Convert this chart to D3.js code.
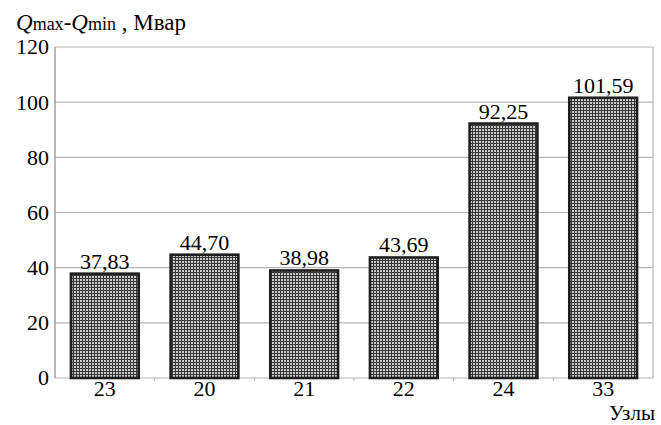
<!DOCTYPE html>
<html>
<head>
<meta charset="utf-8">
<script src="https://cdn.jsdelivr.net/npm/d3@7"></script>
</head>
<body style="margin:0">
<script>
// Data
const nodes = ["23", "20", "21", "22", "24", "33"];
const deltaQ = [37.83, 44.70, 38.98, 43.69, 92.25, 101.59];
const yTicks = [0, 20, 40, 60, 80, 100, 120];

const serif = '"Liberation Serif"';
const margin = { top: 47, right: 8, bottom: 47, left: 55 };
const width = 661 - margin.left - margin.right;
const height = 425 - margin.top - margin.bottom;

const root = d3.select("body")
  .append("svg")
  .attr("width", 661)
  .attr("height", 425);

// Dotted fill used for the bars
const pat = root.append("defs")
  .append("pattern")
  .attr("id", "dots")
  .attr("patternUnits", "userSpaceOnUse")
  .attr("width", 3)
  .attr("height", 3);
pat.append("rect").attr("width", 3).attr("height", 3).attr("fill", "#383838");
pat.append("rect").attr("x", 1).attr("y", 1).attr("width", 2).attr("height", 2)
  .attr("fill", "#c8c8c8");

const svg = root.append("g")
  .attr("transform", `translate(${margin.left},${margin.top})`);

const xScale = d3.scaleBand()
  .domain(nodes)
  .range([0, width])
  .paddingInner(0.32)
  .paddingOuter(0.16);

const yScale = d3.scaleLinear()
  .domain([0, 120])
  .range([height, 0]);

// Gridlines
svg.selectAll(".grid")
  .data(yTicks)
  .enter()
  .append("line")
  .attr("x1", 0)
  .attr("x2", width)
  .attr("y1", d => yScale(d))
  .attr("y2", d => yScale(d))
  .attr("stroke", "#b5b5b5")
  .attr("stroke-width", 1.2);

// Frame: left and right sides
svg.append("line")
  .attr("x1", 0).attr("x2", 0)
  .attr("y1", 0).attr("y2", height)
  .attr("stroke", "#9a9a9a").attr("stroke-width", 1.4);
svg.append("line")
  .attr("x1", width).attr("x2", width)
  .attr("y1", 0).attr("y2", height)
  .attr("stroke", "#b5b5b5").attr("stroke-width", 1.2);

// Small ticks between categories under the axis
const step = xScale.step();
svg.selectAll(".xtick")
  .data(d3.range(1, nodes.length))
  .enter()
  .append("line")
  .attr("x1", i => i * step)
  .attr("x2", i => i * step)
  .attr("y1", height)
  .attr("y2", height + 3)
  .attr("stroke", "#b5b5b5");

// Y tick labels
svg.selectAll(".ylabel")
  .data(yTicks)
  .enter()
  .append("text")
  .attr("x", -6)
  .attr("y", d => yScale(d))
  .attr("dy", "0.34em")
  .attr("text-anchor", "end")
  .attr("font-size", 22)
  .style("font-family", serif)
  .text(d => d);

// Bars
svg.selectAll(".bar")
  .data(deltaQ)
  .enter()
  .append("rect")
  .attr("x", (d, i) => xScale(nodes[i]))
  .attr("y", d => yScale(d))
  .attr("width", xScale.bandwidth())
  .attr("height", d => height - yScale(d))
  .attr("fill", "url(#dots)")
  .attr("stroke", "#1e1e1e")
  .attr("stroke-width", 2.6);

// Value labels
svg.selectAll(".value")
  .data(deltaQ)
  .enter()
  .append("text")
  .attr("x", (d, i) => xScale(nodes[i]) + xScale.bandwidth() / 2)
  .attr("y", d => yScale(d) - 5)
  .attr("text-anchor", "middle")
  .attr("font-size", 22)
  .style("font-family", serif)
  .text(d => d.toFixed(2).replace(".", ","));

// X category labels
svg.selectAll(".xlabel")
  .data(nodes)
  .enter()
  .append("text")
  .attr("x", d => xScale(d) + xScale.bandwidth() / 2)
  .attr("y", height + 18)
  .attr("text-anchor", "middle")
  .attr("font-size", 22)
  .style("font-family", serif)
  .text(d => d);

// Axis titles
const title = root.append("text")
  .attr("x", 16)
  .attr("y", 30)
  .attr("font-size", 23)
  .style("font-family", serif);
title.append("tspan").style("font-style", "italic").text("Q");
title.append("tspan").attr("font-size", 18).text("max");
title.append("tspan").text("-");
title.append("tspan").style("font-style", "italic").text("Q");
title.append("tspan").attr("font-size", 18).text("min");
title.append("tspan").text(" , Мвар");

root.append("text")
  .attr("x", 655)
  .attr("y", 420)
  .attr("text-anchor", "end")
  .attr("font-size", 21)
  .style("font-family", serif)
  .text("Узлы");
</script>
</body>
</html>
